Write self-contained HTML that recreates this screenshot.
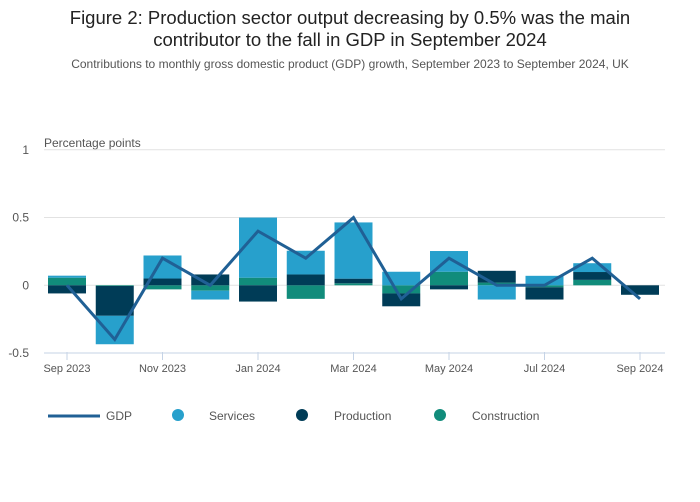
<!DOCTYPE html>
<html><head><meta charset="utf-8"><style>
body{margin:0;background:#fff;font-family:"Liberation Sans","DejaVu Sans",sans-serif;}
#wrap{position:relative;width:700px;height:502px;overflow:hidden;}
</style></head><body>
<div id="wrap">
<svg id="chart" width="700" height="502">
<text x="350" y="24" text-anchor="middle" font-size="18.5" fill="#222">Figure 2: Production sector output decreasing by 0.5% was the main</text>
<text x="350" y="46" text-anchor="middle" font-size="18.5" fill="#222">contributor to the fall in GDP in September 2024</text>
<text x="350" y="68" text-anchor="middle" font-size="12" fill="#555">Contributions to monthly gross domestic product (GDP) growth, September 2023 to September 2024, UK</text>
<text x="44" y="147" font-size="12" fill="#555">Percentage points</text>
<g id="grid"></g><g id="bars"></g><g id="line"></g><g id="xaxis"></g>
<g>
<line x1="48" y1="416" x2="100" y2="416" stroke="#206095" stroke-width="3"/>
<text x="106" y="420" font-size="12" fill="#555">GDP</text>
<circle cx="178" cy="415" r="6" fill="#27a0cc"/>
<text x="209" y="420" font-size="12" fill="#555">Services</text>
<circle cx="302" cy="415" r="6" fill="#003c57"/>
<text x="334" y="420" font-size="12" fill="#555">Production</text>
<circle cx="440" cy="415" r="6" fill="#118c7b"/>
<text x="472" y="420" font-size="12" fill="#555">Construction</text>
</g>
</svg></div>
<script>
const categories=["Sep 2023","Oct 2023","Nov 2023","Dec 2023","Jan 2024","Feb 2024","Mar 2024","Apr 2024","May 2024","Jun 2024","Jul 2024","Aug 2024","Sep 2024"];
const construction=[0.056,-0.005,-0.03,-0.04,0.056,-0.1,0.015,-0.06,0.1,0.02,-0.015,0.04,0];
const production=[-0.06,-0.22,0.05,0.08,-0.12,0.08,0.034,-0.095,-0.03,0.087,-0.09,0.058,-0.07];
const services=[0.015,-0.21,0.17,-0.065,0.444,0.175,0.415,0.1,0.153,-0.105,0.07,0.065,0];
const gdp=[0,-0.4,0.2,0,0.4,0.2,0.5,-0.1,0.2,0,0,0.2,-0.1];
const yTicks=[1,0.5,0,-0.5];
const yTickLabels=["1","0.5","0","-0.5"];
const xTickIdx=[0,2,4,6,8,10,12];
const NS="http://www.w3.org/2000/svg";
const X0=67,DX=47.75,Y0=285.3,PX=135.5,BW=38;
const x=i=>X0+i*DX, y=v=>Y0-v*PX;
function mk(tag,attrs,parent){const e=document.createElementNS(NS,tag);for(const k in attrs)e.setAttribute(k,attrs[k]);parent.appendChild(e);return e;}
const grid=document.getElementById('grid');
yTicks.forEach((t,i)=>{
  const l=mk('line',{x1:44,x2:665,y1:y(t),y2:y(t),stroke:t===-0.5?'#c5d3e6':'#e2e2e2','stroke-width':1},grid);
  
  
  const tx=mk('text',{x:29,y:y(t)+4,'text-anchor':'end','font-size':12,fill:'#555'},grid);
  tx.textContent=yTickLabels[i];
  
  
});
const bars=document.getElementById('bars');
const series=[["construction",construction,"#118c7b"],["production",production,"#003c57"],["services",services,"#27a0cc"]];
categories.forEach((c,i)=>{
  let pos=0,neg=0;
  series.forEach(([name,arr,col])=>{
    const v=arr[i]; if(!v) return;
    let a,b;
    if(v>0){a=pos;b=pos+v;pos=b;}else{a=neg;b=neg+v;neg=b;}
    const top=Math.min(y(a),y(b)),h=Math.abs(y(a)-y(b));
    const r=mk('rect',{x:x(i)-BW/2,y:top,width:BW,height:h,fill:col},bars);
    
    
  });
});
const lg=document.getElementById('line');
const p=mk('polyline',{points:gdp.map((v,i)=>x(i)+','+y(v)).join(' '),fill:'none',stroke:'#206095','stroke-width':3,'stroke-linejoin':'miter'},lg);


const xa=document.getElementById('xaxis');
xTickIdx.forEach(i=>{
  const l=mk('line',{x1:x(i),x2:x(i),y1:352,y2:360,stroke:'#c5d3e6'},xa);
  
  
  const t=mk('text',{x:x(i),y:372,'text-anchor':'middle','font-size':11,fill:'#555'},xa);
  t.textContent=categories[i];
  
  
});
</script>
</body></html>
